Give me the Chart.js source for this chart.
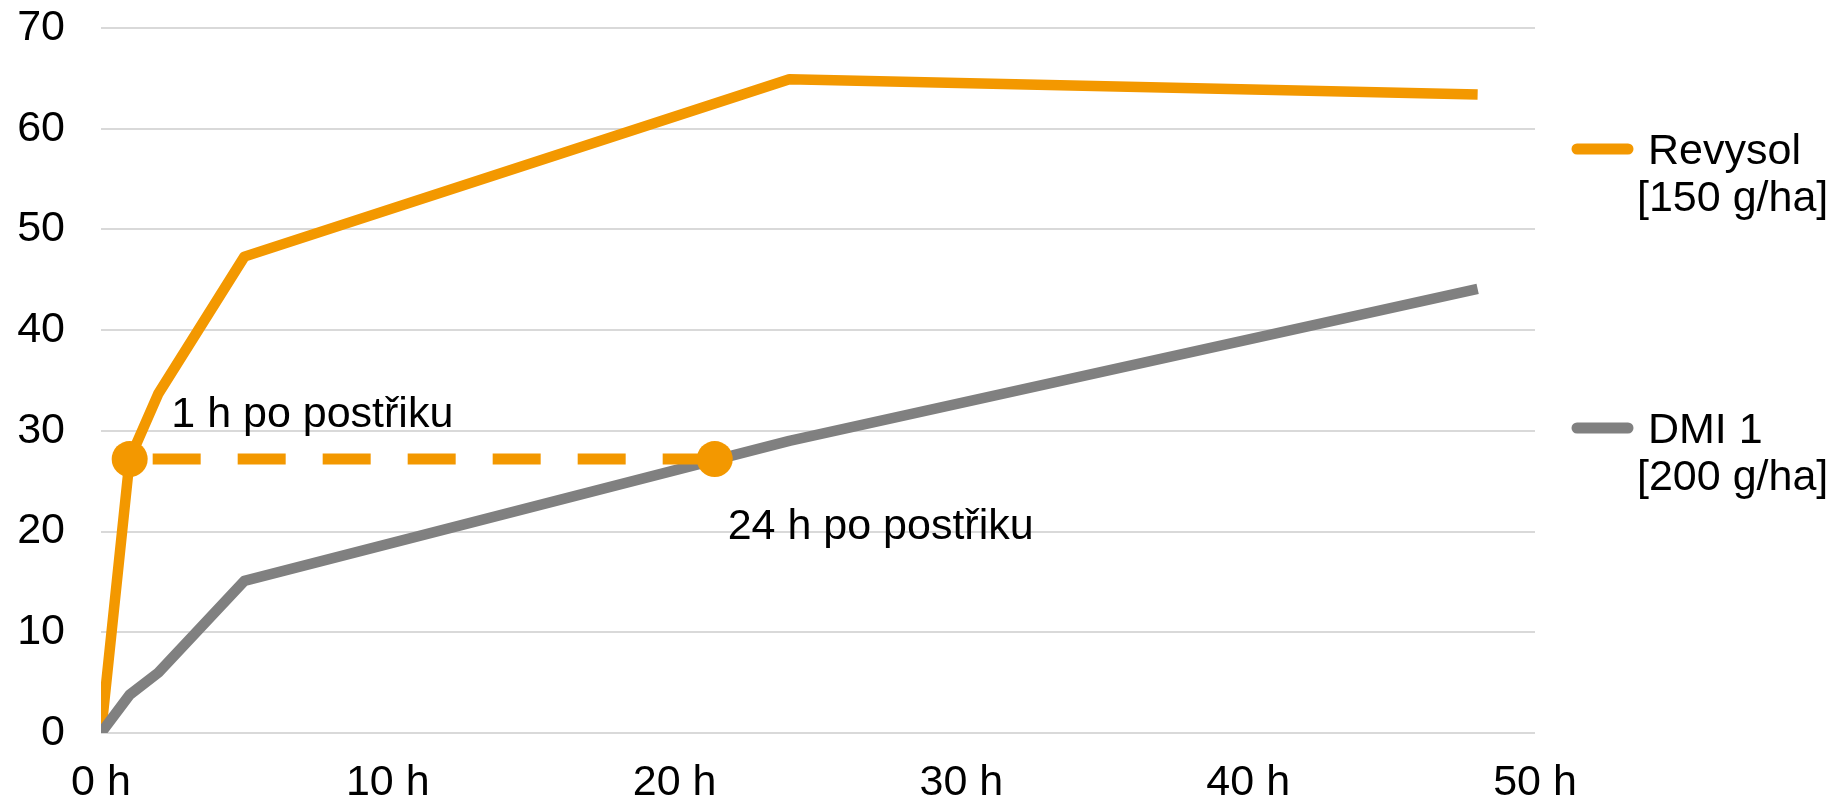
<!DOCTYPE html>
<html>
<head>
<meta charset="utf-8">
<script src="https://cdn.jsdelivr.net/npm/chart.js@4"></script>
<style>
  html, body { margin: 0; padding: 0; background: #fff; }
  #wrap { width: 1829px; height: 801px; position: relative; }
</style>
</head>
<body>
<div id="wrap"><canvas id="chart"></canvas></div>
<script>
// Hours after application (x values)
const hours = [0, 1, 2, 5, 24, 48];
// Series values
const revysol = [0, 27.2, 33.7, 47.3, 64.9, 63.4];
const dmi = [0, 3.8, 6.0, 15.1, 29.0, 44.1];
// Dashed comparison line between the two markers
const markerHours = [1, 21.4];
const markerValues = [27.2, 27.2];
// Text notes placed in data space
const noteText = ['1 h po postřiku', '24 h po postřiku'];
const noteHours = [2.45, 21.85];
const noteValues = [30.4, 19.3];
// Legend entries
const legendLines = [['Revysol', '[150 g/ha]'], ['DMI 1', '[200 g/ha]']];
const xTicks = [0, 10, 20, 30, 40, 50];

const ORANGE = '#F39800';
const GREY = '#808080';
const FONT = '"Liberation Sans", Arial, sans-serif';
const FONT_SIZE = 43;

function points(xs, ys) {
    return xs.map((x, i) => ({ x: x, y: ys[i] }));
}

// Draws the notes and the custom two-line legend
const extrasPlugin = {
    id: 'extras',
    afterDatasetsDraw(chart) {
        const ctx = chart.ctx;
        const xs = chart.scales.x;
        const ys = chart.scales.y;
        ctx.save();
        ctx.fillStyle = '#000';
        ctx.font = FONT_SIZE + 'px ' + FONT;
        ctx.textBaseline = 'alphabetic';
        ctx.textAlign = 'left';
        noteText.forEach((t, i) => {
            ctx.fillText(t, xs.getPixelForValue(noteHours[i]), ys.getPixelForValue(noteValues[i]));
        });

        // legend
        const left = chart.chartArea.right + 37;
        const tops = [149, 428];
        const colors = [ORANGE, GREY];
        legendLines.forEach((lines, i) => {
            ctx.strokeStyle = colors[i];
            ctx.lineWidth = 11;
            ctx.lineCap = 'round';
            ctx.beginPath();
            ctx.moveTo(left + 5, tops[i]);
            ctx.lineTo(left + 56, tops[i]);
            ctx.stroke();
            ctx.fillStyle = '#000';
            ctx.fillText(lines[0], left + 76, tops[i] + 15);
            ctx.fillText(lines[1], left + 65, tops[i] + 62);
        });
        ctx.restore();
    }
};

const chart = new Chart(document.getElementById('chart'), {
    type: 'line',
    data: {
        datasets: [
            {
                label: 'Revysol [150 g/ha]',
                data: points(hours, revysol),
                borderColor: ORANGE,
                borderWidth: 10.5,
                borderJoinStyle: 'round',
                pointRadius: 0,
                tension: 0,
                order: 3
            },
            {
                label: 'DMI 1 [200 g/ha]',
                data: points(hours, dmi),
                borderColor: GREY,
                borderWidth: 10.5,
                borderJoinStyle: 'round',
                pointRadius: 0,
                tension: 0,
                order: 2
            },
            {
                label: 'marker',
                data: points(markerHours, markerValues),
                borderColor: ORANGE,
                backgroundColor: ORANGE,
                borderWidth: 11,
                borderDash: [48, 37],
                borderDashOffset: 62,
                borderCapStyle: 'butt',
                pointRadius: 18,
                pointBorderWidth: 0,
                pointBackgroundColor: ORANGE,
                order: 1
            }
        ]
    },
    options: {
        responsive: true,
        maintainAspectRatio: false,
        animation: false,
        layout: { padding: { top: 0, right: 294, left: 0, bottom: 0 } },
        plugins: {
            legend: { display: false },
            tooltip: { enabled: false }
        },
        scales: {
            x: {
                type: 'linear',
                min: 0,
                max: 50,
                afterBuildTicks(scale) {
                    scale.ticks = xTicks.map(v => ({ value: v }));
                },
                afterFit(scale) { scale.height = 68; },
                grid: { display: false },
                border: { display: false },
                ticks: {
                    color: '#000',
                    font: { family: FONT, size: FONT_SIZE },
                    padding: 16,
                    maxRotation: 0,
                    callback: v => v + ' h'
                }
            },
            y: {
                min: 0,
                max: 70,
                afterFit(scale) {
                    scale.width = 101;
                    scale.paddingTop = 28;
                    scale.paddingBottom = 0;
                },
                grid: { color: '#d9d9d9', lineWidth: 2, drawTicks: false },
                border: { display: false },
                ticks: {
                    stepSize: 10,
                    color: '#000',
                    font: { family: FONT, size: FONT_SIZE },
                    padding: 36
                }
            }
        }
    },
    plugins: [extrasPlugin]
});
</script>
</body>
</html>
